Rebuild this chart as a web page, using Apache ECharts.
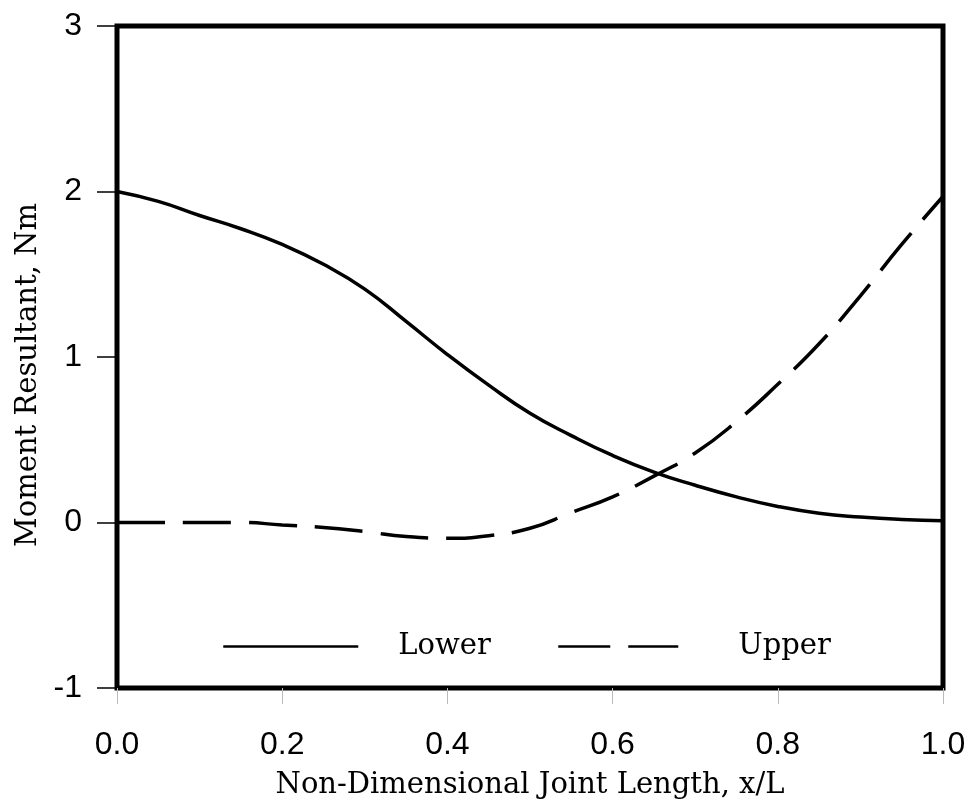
<!DOCTYPE html>
<html>
<head>
<meta charset="utf-8">
<script src="https://cdn.jsdelivr.net/npm/echarts@6/dist/echarts.min.js"></script>
<style>
  html, body { margin: 0; padding: 0; background: #fff; }
  #chart { width: 975px; height: 811px; }
</style>
</head>
<body>
<div id="chart"></div>
<script>
// x positions (x/L)
const xValues = [0, 0.05, 0.10, 0.15, 0.20, 0.25, 0.30, 0.35, 0.40, 0.45, 0.50,
                 0.55, 0.60, 0.65, 0.70, 0.75, 0.80, 0.85, 0.90, 0.95, 1.0];
// Moment resultant, Nm
const lowerValues = [2.0, 1.94, 1.855, 1.775, 1.68, 1.56, 1.41, 1.215, 1.015, 0.83, 0.66,
                     0.525, 0.405, 0.305, 0.225, 0.155, 0.097, 0.056, 0.033, 0.018, 0.01];
const upperValues = [0, 0, 0, 0, -0.015, -0.03, -0.055, -0.085, -0.095, -0.08, -0.035,
                     0.06, 0.155, 0.28, 0.42, 0.61, 0.835, 1.08, 1.37, 1.68, 1.97];
const xTicks = ['0.0', '0.2', '0.4', '0.6', '0.8', '1.0'];
const yTicks = ['-1', '0', '1', '2', '3'];

const lowerData = xValues.map((x, i) => [x, lowerValues[i]]);
const upperData = xValues.map((x, i) => [x, upperValues[i]]);

const chart = echarts.init(document.getElementById('chart'), null, { renderer: 'canvas' });
const dash = [48, 18];
const serif = 'DejaVu Serif';
chart.setOption({
  backgroundColor: '#ffffff',
  animation: false,
  color: ['#000', '#000'],
  grid: {
    left: 117, right: 32, top: 26, bottom: 123,
    show: true, borderColor: '#000', borderWidth: 5, backgroundColor: 'transparent'
  },
  legend: [
    {
      data: ['Lower'], left: 222, top: 632, padding: 0,
      itemWidth: 135, itemHeight: 20,
      itemStyle: { opacity: 0 },
      lineStyle: { color: '#000', width: 2.5, type: 'solid' },
      textStyle: { fontFamily: serif, fontSize: 29, color: '#000', padding: [0, 0, 0, 35] },
      selectedMode: false
    },
    {
      data: ['Upper'], left: 557, top: 632, padding: 0,
      itemWidth: 120, itemHeight: 20,
      itemStyle: { opacity: 0 },
      lineStyle: { color: '#000', width: 2.5, type: [52, 18] },
      textStyle: { fontFamily: serif, fontSize: 29, color: '#000', padding: [0, 0, 0, 55] },
      selectedMode: false
    }
  ],
  xAxis: {
    type: 'value', min: 0, max: 1, interval: 0.2,
    name: 'Non-Dimensional Joint Length, x/L',
    nameLocation: 'middle', nameGap: 83,
    nameTextStyle: { fontFamily: serif, fontSize: 29, color: '#000' },
    axisLine: { show: false, onZero: false },
    axisTick: { show: true, length: 16, lineStyle: { color: '#bbb', width: 1 } },
    splitLine: { show: false },
    axisLabel: {
      margin: 41, fontFamily: 'Liberation Sans', fontSize: 32, color: '#000',
      formatter: (v) => xTicks[Math.round(v / 0.2)]
    }
  },
  yAxis: {
    type: 'value', min: -1, max: 3, interval: 1,
    name: 'Moment Resultant, Nm',
    nameLocation: 'middle', nameGap: 72,
    nameTextStyle: { fontFamily: serif, fontSize: 29, color: '#000', padding: [0, 36, 0, 0] },
    axisLine: { show: false, onZero: false },
    axisTick: { show: true, length: 20, lineStyle: { color: '#000', width: 1.5 } },
    splitLine: { show: false },
    axisLabel: {
      margin: 35, fontFamily: 'Liberation Sans', fontSize: 32, color: '#000',
      formatter: (v) => yTicks[Math.round(v) + 1]
    }
  },
  series: [
    {
      name: 'Lower', type: 'line', data: lowerData, smooth: true,
      showSymbol: false, symbol: 'none',
      itemStyle: { color: '#000' },
      lineStyle: { color: '#000', width: 3.5, type: 'solid' },
      z: 3
    },
    {
      name: 'Upper', type: 'line', data: upperData, smooth: true,
      showSymbol: false, symbol: 'none',
      itemStyle: { color: '#000' },
      lineStyle: { color: '#000', width: 3.5, type: dash },
      z: 3
    }
  ]
});
</script>
</body>
</html>
